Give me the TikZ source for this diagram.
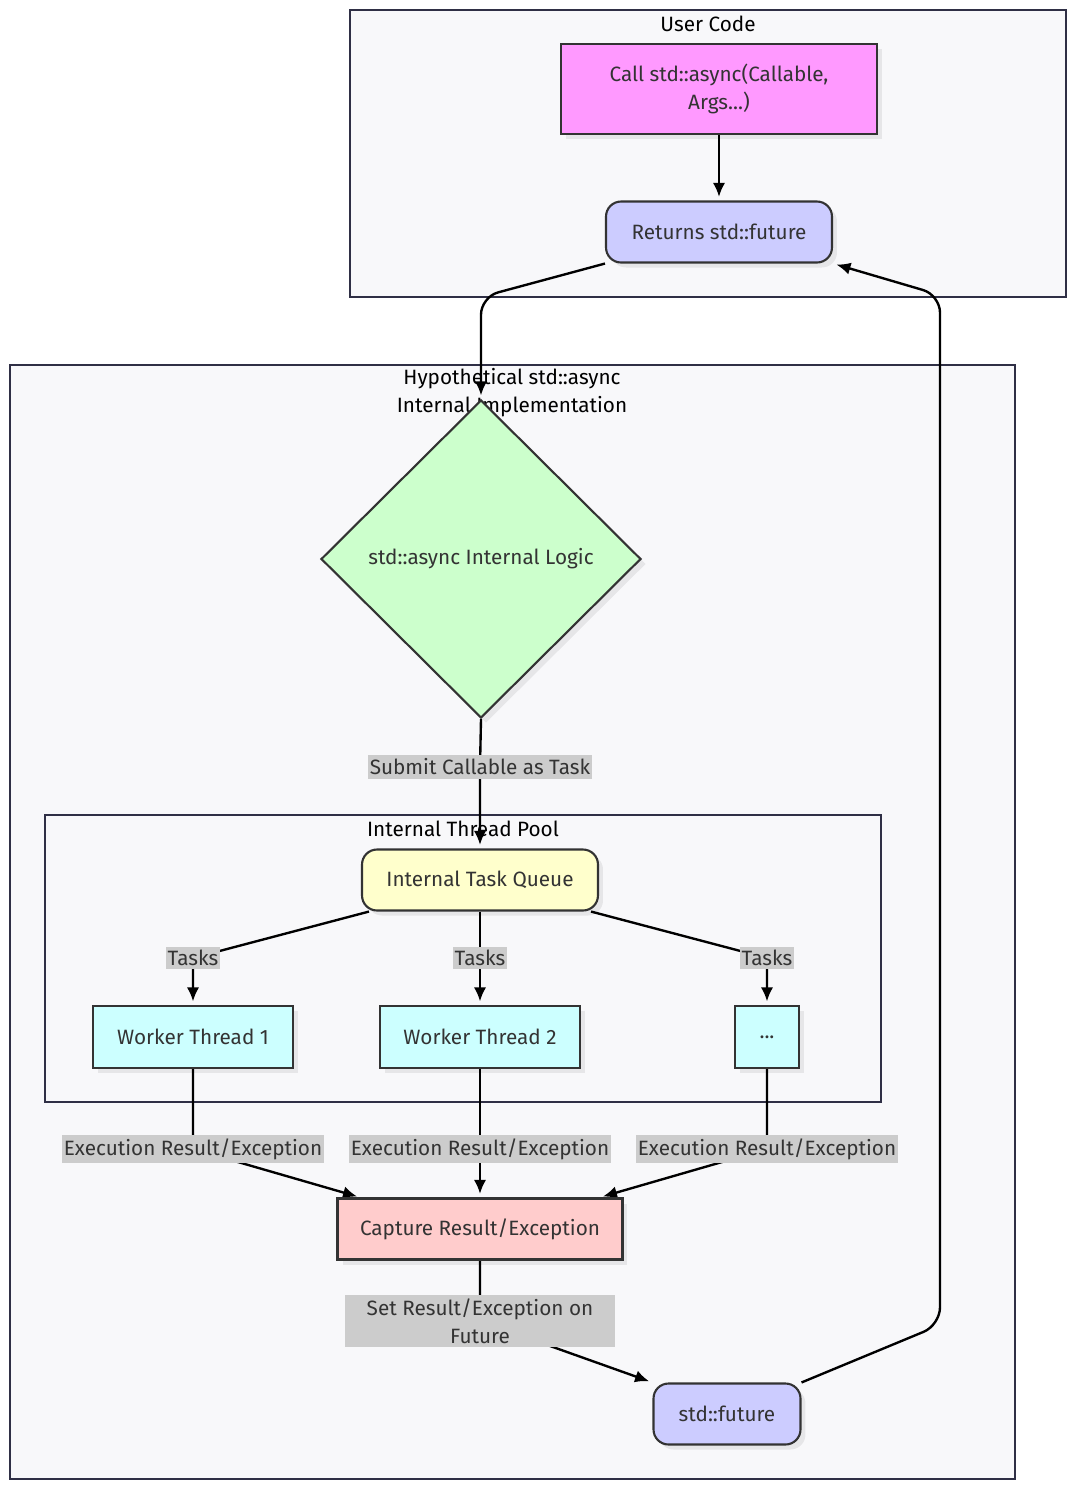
\documentclass[tikz,border=0pt]{standalone}
\usepackage{fontspec}
\setmainfont{Fira Sans}
\usetikzlibrary{shapes.geometric,arrows.meta,shadows}

\definecolor{clusfill}{HTML}{F8F8FA}
\definecolor{clusline}{HTML}{2F2F45}
\definecolor{nodeline}{HTML}{333333}
\definecolor{txt}{HTML}{333333}
\definecolor{lblfill}{HTML}{CCCCCC}
\definecolor{pinkfill}{HTML}{FF99FF}
\definecolor{bluefill}{HTML}{CCCCFF}
\definecolor{greenfill}{HTML}{CCFFCC}
\definecolor{yellowfill}{HTML}{FFFFCC}
\definecolor{cyanfill}{HTML}{CCFFFF}
\definecolor{redfill}{HTML}{FFCCCC}

\newcommand{\diagfont}{\fontsize{11.8}{15.9}\selectfont}

\pgfdeclarelayer{bg}
\pgfdeclarelayer{edges}
\pgfsetlayers{bg,edges,main}

\tikzset{
  clus/.style={draw=clusline, fill=clusfill, line width=1.2pt},
  clustitle/.style={font=\diagfont, text=black, align=center, inner sep=0pt},
  box/.style={draw=nodeline, line width=1.2pt, text=txt, font=\diagfont, align=center,
    inner sep=0pt, minimum height=1.22cm,
    drop shadow={shadow xshift=0.1cm, shadow yshift=-0.1cm, fill=black, opacity=0.07}},
  rbox/.style={box, rounded corners=0.3cm},
  lbl/.style={fill=lblfill, text=txt, font=\diagfont, align=center, inner xsep=1pt, inner ysep=2pt},
  arr/.style={-{Latex[length=8pt,width=7pt]}, line width=1.35pt, shorten >=2pt},
}

\begin{document}
\begin{tikzpicture}[x=0.02cm, y=-0.02cm]
\useasboundingbox (0,0) rectangle (1080,1495);

% clusters
\begin{pgfonlayer}{bg}
\fill[white] (0,0) rectangle (1080,1495);
\draw[clus] (350,10) rectangle (1066,297);
\node[clustitle] at (708,24) {User Code};
\draw[clus] (10,365) rectangle (1015,1479);
\node[clustitle] at (512,393) {Hypothetical std::async\\Internal Implementation};
\draw[clus] (45,815) rectangle (881,1102);
\node[clustitle] at (463,829) {Internal Thread Pool};
\end{pgfonlayer}

% nodes
\node[box, fill=pinkfill, minimum width=6.32cm, minimum height=1.8cm] (call) at (719,89)
  {Call std::async(Callable,\\Args...)};
\node[rbox, fill=bluefill, minimum width=4.52cm] (ret) at (719,232) {Returns std::future};
\node[box, shape=diamond, fill=greenfill, minimum width=6.4cm, minimum height=6.36cm] (dia) at (481,559)
  {std::async Internal Logic};
\node[rbox, fill=yellowfill, minimum width=4.72cm] (queue) at (480,880) {Internal Task Queue};
\node[box, fill=cyanfill, minimum width=4cm, minimum height=1.24cm] (w1) at (193,1037) {Worker Thread 1};
\node[box, fill=cyanfill, minimum width=4cm, minimum height=1.24cm] (w2) at (480,1037) {Worker Thread 2};
\node[box, fill=cyanfill, minimum width=1.28cm, minimum height=1.24cm] (w3) at (767,1037) {...};
\node[box, fill=redfill, minimum width=5.7cm] (cap) at (480,1229) {Capture Result/Exception};
\node[rbox, fill=bluefill, minimum width=2.94cm] (fut) at (727,1414) {std::future};

% edge labels
\node[lbl] (sub) at (480,767) {Submit Callable as Task};
\node[lbl] (tk1) at (193,958) {Tasks};
\node[lbl] (tk2) at (480,958) {Tasks};
\node[lbl] (tk3) at (767,958) {Tasks};
\node[lbl] (ex1) at (193,1149) {Execution Result/Exception};
\node[lbl] (ex2) at (480,1149) {Execution Result/Exception};
\node[lbl] (ex3) at (767,1149) {Execution Result/Exception};
\node[lbl, minimum width=5.4cm] (setl) at (480,1321) {Set Result/Exception on\\Future};

% edges
\begin{pgfonlayer}{edges}
\draw[arr] (call) -- (ret);
\draw[arr, rounded corners=10] (ret.south west) -- (dia.north |- 0,297) -- (dia.north);
\draw[arr] (dia.south) -- (sub.center) -- (queue.north);
\draw[arr] ([xshift=0.16cm]queue.south west) -- (tk1.center) -- (w1.north);
\draw[arr] (queue) -- (tk2.center) -- (w2);
\draw[arr] ([xshift=-0.16cm]queue.south east) -- (tk3.center) -- (w3.north);
\draw[arr] (w1.south) -- (ex1.center) -- ([xshift=0.48cm]cap.north west);
\draw[arr] (w2) -- (ex2.center) -- (cap);
\draw[arr] (w3.south) -- (ex3.center) -- ([xshift=-0.48cm]cap.north east);
\draw[arr] (cap.south) -- (setl.center) -- (fut.north west);
\draw[arr, rounded corners=10] (fut.north east) -- (940,1325) -- (940,295) -- (ret.south east);
\end{pgfonlayer}
\end{tikzpicture}
\end{document}
